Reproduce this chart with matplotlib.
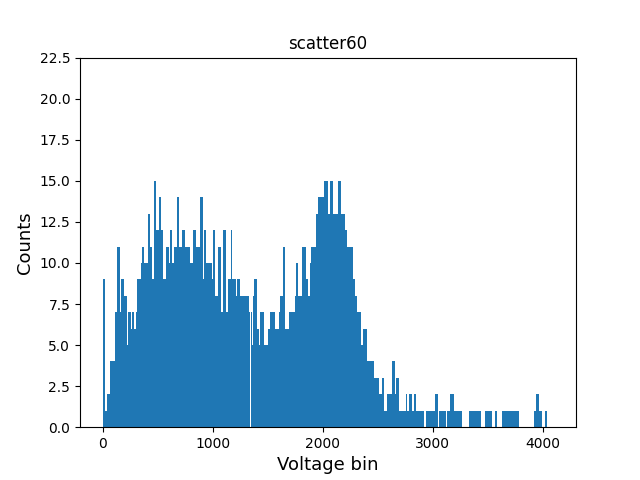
import numpy as np
import matplotlib
matplotlib.use('Agg')
import matplotlib.pyplot as plt

run_start = [0, 25, 40, 65, 110, 135, 155, 170, 195, 220, 235, 255, 265, 285, 300,
             315, 345, 355, 375, 415, 435, 445, 465, 490, 510, 535, 550, 575, 605,
             610, 630, 650, 675, 695, 725, 750, 795, 825, 850, 885, 910, 920, 940,
             990, 1005, 1020, 1050, 1080, 1090, 1120, 1140, 1165, 1180, 1210, 1225,
             1250, 1330, 1355, 1370, 1380, 1400, 1425, 1430, 1465, 1505, 1520, 1565,
             1605, 1615, 1635, 1660, 1690, 1750, 1760, 1780, 1810, 1850, 1870, 1880,
             1895, 1935, 1960, 2010, 2050, 2065, 2090, 2140, 2165, 2205, 2225, 2275,
             2295, 2310, 2345, 2365, 2405, 2465, 2515, 2540, 2560, 2585, 2625, 2655,
             2665, 2690, 2755, 2770, 2785, 2810, 2825, 2845, 2920, 2940, 3020, 3045,
             3055, 3120, 3130, 3155, 3195, 3265, 3330, 3435, 3475, 3535, 3565, 3585,
             3630, 3785, 3915, 3940, 3965, 3990, 4015, 4035]
run_count = [9, 1, 2, 4, 7, 11, 7, 9, 8, 5, 7, 6, 7, 6, 7,
             9, 10, 11, 10, 13, 11, 9, 15, 12, 14, 12, 9, 11, 10,
             12, 10, 11, 14, 11, 12, 11, 10, 12, 11, 14, 9, 12, 10,
             9, 12, 8, 11, 7, 12, 7, 9, 12, 9, 8, 9,
             8, 7, 5, 8, 9, 6, 5, 7, 5, 6, 7, 6,
             7, 8, 11, 6, 7, 8, 10, 8, 11, 9, 8, 10,
             11, 13, 14, 15, 13, 15, 13, 15, 13, 12, 11, 9,
             8, 7, 5, 6, 4, 3, 2, 3, 1, 2, 4, 2,
             3, 1, 2, 1, 2, 1, 2, 1, 0, 1, 2, 0,
             1, 0, 1, 2, 1, 0, 1, 0, 1, 0, 1, 0,
             1, 0, 1, 2, 1, 0, 1, 0]
n_bins = 4096

edges = run_start + [n_bins]
counts = np.repeat(run_count, np.diff(edges))
bins = np.arange(n_bins)

plt.figure(figsize=(6.4, 4.8))
plt.bar(bins, counts, width=1.0)
plt.ylim(0, 1.5 * max(run_count))
plt.title("scatter60")
plt.xlabel("Voltage bin", fontsize=13)
plt.ylabel("Counts", fontsize=13)
plt.savefig("out.png")
